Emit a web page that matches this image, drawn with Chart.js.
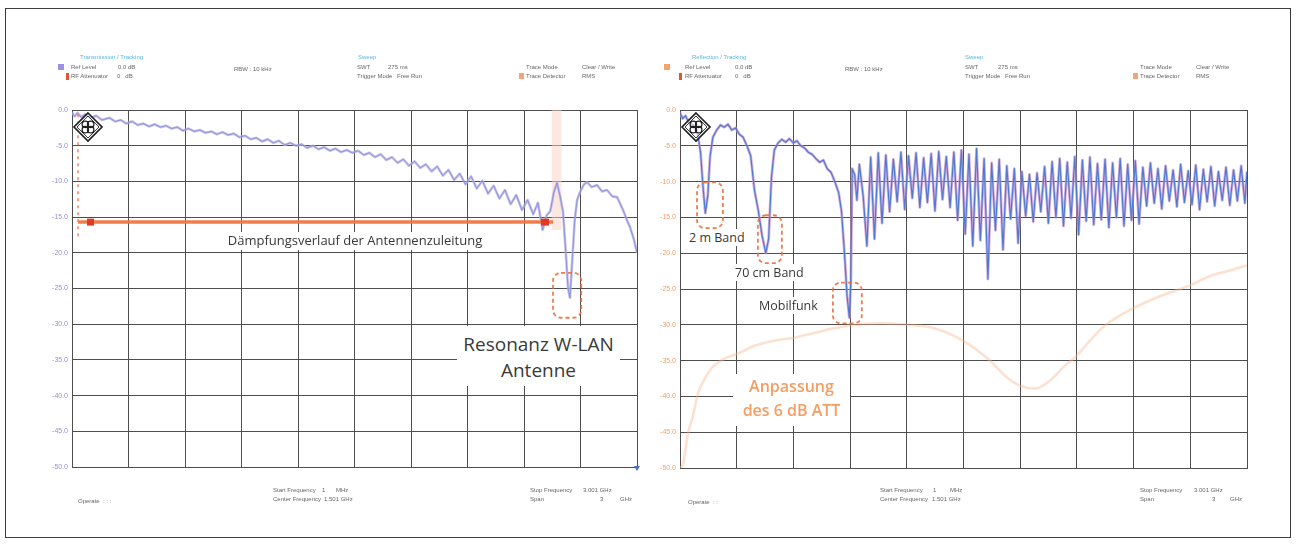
<!DOCTYPE html>
<html>
<head>
<meta charset="utf-8">
<script src="https://cdn.jsdelivr.net/npm/chart.js@4.4.1/dist/chart.umd.min.js"></script>
<style>
  html, body { margin: 0; padding: 0; background: #fff; }
  #stage { position: relative; width: 1296px; height: 545px; overflow: hidden; background: #fff; font-family: "Open Sans", sans-serif; }
  #frame { position: absolute; left: 5px; top: 8px; width: 1286px; height: 530px; border: 1px solid #3c3c3c; box-sizing: border-box; }
  canvas { position: absolute; top: 0; filter: blur(0.35px); }
  .t { position: absolute; white-space: nowrap; }
  .hdr { font-family: "Liberation Sans", sans-serif; font-size: 6px; line-height: 7px; color: #666; filter: blur(0.45px); }
  .cy { font-family: "Liberation Sans", sans-serif; font-size: 6px; line-height: 7px; color: #5ab6df; filter: blur(0.5px); }
  .sq { position: absolute; filter: blur(0.5px); }
  .note { color: #383838; background: #fff; line-height: 1.36; }
  .big { text-align: center; background: #fff; color: #3a3a3a; font-size: 19px; line-height: 26px; }
  .orange { text-align: center; background: #fff; color: rgba(243,140,72,0.85); font-size: 16px; font-weight: 600; line-height: 24px; }
  .orange span { filter: blur(0.7px); display: block; }
</style>
</head>
<body>
<div id="stage">
  <div id="frame"></div>
  <canvas id="chartLeft" width="660" height="545" style="left:0px"></canvas>
  <canvas id="chartRight" width="676" height="545" style="left:620px"></canvas>

  <!-- left instrument header -->
  <div class="t cy" style="left:80px;top:54px">Transmission / Tracking</div>
  <div class="t cy" style="left:358px;top:54px">Sweep</div>
  <div class="sq" style="left:58px;top:64px;width:6px;height:6px;background:#9d92e0"></div>
  <div class="sq" style="left:66px;top:73px;width:3px;height:7px;background:#e2552e"></div>
  <div class="t hdr" style="left:71px;top:64px">Ref Level</div>
  <div class="t hdr" style="left:118px;top:64px">0.0 dB</div>
  <div class="t hdr" style="left:71px;top:73px">RF Attenuator</div>
  <div class="t hdr" style="left:117px;top:73px">0&nbsp;&nbsp;&nbsp;dB</div>
  <div class="t hdr" style="left:234px;top:66px">RBW : 10 kHz</div>
  <div class="t hdr" style="left:357px;top:64px">SWT</div>
  <div class="t hdr" style="left:388px;top:64px">275 ms</div>
  <div class="t hdr" style="left:357px;top:73px">Trigger Mode</div>
  <div class="t hdr" style="left:397px;top:73px">Free Run</div>
  <div class="sq" style="left:519px;top:73px;width:5px;height:6px;background:#f6a27a"></div>
  <div class="t hdr" style="left:526px;top:64px">Trace Mode</div>
  <div class="t hdr" style="left:582px;top:64px">Clear / Write</div>
  <div class="t hdr" style="left:526px;top:73px">Trace Detector</div>
  <div class="t hdr" style="left:582px;top:73px">RMS</div>

  <!-- right instrument header -->
  <div class="t cy" style="left:692px;top:54px">Reflection / Tracking</div>
  <div class="t cy" style="left:965px;top:54px">Sweep</div>
  <div class="sq" style="left:664px;top:64px;width:6px;height:6px;background:#f7a36c"></div>
  <div class="sq" style="left:679px;top:73px;width:3px;height:7px;background:#e2552e"></div>
  <div class="t hdr" style="left:685px;top:64px">Ref Level</div>
  <div class="t hdr" style="left:735px;top:64px">0.0 dB</div>
  <div class="t hdr" style="left:685px;top:73px">RF Attenuator</div>
  <div class="t hdr" style="left:735px;top:73px">0&nbsp;&nbsp;&nbsp;dB</div>
  <div class="t hdr" style="left:845px;top:66px">RBW : 10 kHz</div>
  <div class="t hdr" style="left:965px;top:64px">SWT</div>
  <div class="t hdr" style="left:998px;top:64px">275 ms</div>
  <div class="t hdr" style="left:965px;top:73px">Trigger Mode</div>
  <div class="t hdr" style="left:1005px;top:73px">Free Run</div>
  <div class="sq" style="left:1133px;top:73px;width:5px;height:6px;background:#f6a27a"></div>
  <div class="t hdr" style="left:1140px;top:64px">Trace Mode</div>
  <div class="t hdr" style="left:1196px;top:64px">Clear / Write</div>
  <div class="t hdr" style="left:1140px;top:73px">Trace Detector</div>
  <div class="t hdr" style="left:1196px;top:73px">RMS</div>

  <!-- left instrument footer -->
  <div class="t hdr" style="left:78px;top:498px">Operate&nbsp;&nbsp;: : :</div>
  <div class="t hdr" style="left:273px;top:487px">Start Frequency</div>
  <div class="t hdr" style="left:322px;top:487px">1</div>
  <div class="t hdr" style="left:336px;top:487px">MHz</div>
  <div class="t hdr" style="left:273px;top:496px">Center Frequency</div>
  <div class="t hdr" style="left:324px;top:496px">1.501 GHz</div>
  <div class="t hdr" style="left:530px;top:487px">Stop Frequency</div>
  <div class="t hdr" style="left:583px;top:487px">3.001 GHz</div>
  <div class="t hdr" style="left:530px;top:496px">Span</div>
  <div class="t hdr" style="left:600px;top:496px">3</div>
  <div class="t hdr" style="left:620px;top:496px">GHz</div>

  <!-- right instrument footer -->
  <div class="t hdr" style="left:688px;top:499px">Operate&nbsp;&nbsp;: :</div>
  <div class="t hdr" style="left:880px;top:487px">Start Frequency</div>
  <div class="t hdr" style="left:933px;top:487px">1</div>
  <div class="t hdr" style="left:950px;top:487px">MHz</div>
  <div class="t hdr" style="left:880px;top:496px">Center Frequency</div>
  <div class="t hdr" style="left:932px;top:496px">1.501 GHz</div>
  <div class="t hdr" style="left:1140px;top:487px">Stop Frequency</div>
  <div class="t hdr" style="left:1194px;top:487px">3.001 GHz</div>
  <div class="t hdr" style="left:1140px;top:496px">Span</div>
  <div class="t hdr" style="left:1212px;top:496px">3</div>
  <div class="t hdr" style="left:1230px;top:496px">GHz</div>

  <!-- annotations -->
  <div class="t note" style="left:355px;top:232px;font-size:13px;padding:0 3px;transform:translateX(-50%)">Dämpfungsverlauf der Antennenzuleitung</div>
  <div class="t big" style="left:457px;top:326px;width:163px;height:60px;padding-top:5px;box-sizing:border-box">Resonanz W-LAN<br>Antenne</div>
  <div class="t note" style="left:688px;top:229px;font-size:12.5px;padding:0 1px">2 m Band</div>
  <div class="t note" style="left:734px;top:264px;font-size:12.5px;padding:0 1px">70 cm Band</div>
  <div class="t note" style="left:758px;top:297px;font-size:12.5px;padding:0 1px">Mobilfunk</div>
  <div class="t orange" style="left:733px;top:374px;width:117px;height:52px"><span>Anpassung</span><span>des 6 dB ATT</span></div>
</div>

<script>
// Sweep axis: 1 MHz .. 3.001 GHz, ten divisions
const gridMHz = [1, 301, 601, 901, 1201, 1501, 1801, 2101, 2401, 2701, 3001];
// Level axis: 0 dB reference, 5 dB per division
const levelTicksDb = [0, -5, -10, -15, -20, -25, -30, -35, -40, -45, -50];

// Transmission: feed line attenuation with W-LAN antenna resonance
const freqMHzCable = [1, 15, 30, 50, 70, 100, 130, 160, 200, 230, 260, 290, 320, 350, 380, 410, 440, 470, 500, 530,
  560, 590, 620, 650, 680, 710, 740, 770, 800, 830, 860, 890, 920, 950, 980, 1010, 1040, 1070, 1100, 1130,
  1160, 1190, 1220, 1250, 1280, 1310, 1340, 1370, 1400, 1430, 1460, 1490, 1520, 1550, 1580, 1610, 1640, 1670, 1700, 1730,
  1760, 1790, 1820, 1850, 1880, 1910, 1940, 1970, 2000, 2030, 2060, 2090, 2120, 2150, 2180, 2210, 2240, 2270, 2300, 2330,
  2360, 2390, 2420, 2450, 2475, 2500, 2520, 2540, 2560, 2576, 2592, 2608, 2622, 2635, 2645, 2655, 2670, 2683, 2700, 2720,
  2736, 2760, 2789, 2815, 2842, 2870, 2895, 2927, 2950, 2964, 2985, 3001];
const levelDbCable = [-0.3, -0.9, -0.4, -1.0, -0.6, -1.1, -0.8, -1.4, -1.1, -1.6, -1.4, -1.9, -1.6, -2.1, -1.9, -2.3, -2.0, -2.4, -2.2, -2.6,
  -2.4, -2.9, -2.6, -3.0, -2.8, -3.2, -3.0, -3.4, -3.1, -3.5, -3.3, -3.8, -3.6, -4.1, -3.9, -4.4, -4.1, -4.6, -4.3, -4.9,
  -4.6, -5.0, -4.8, -5.3, -5.0, -5.5, -5.2, -5.7, -5.4, -5.9, -5.6, -6.0, -5.7, -6.3, -6.0, -6.6, -6.2, -7.0, -6.6, -7.4,
  -6.9, -7.8, -7.2, -8.1, -7.6, -8.6, -7.9, -9.2, -8.4, -9.8, -8.9, -10.4, -9.3, -11.0, -9.9, -11.7, -10.6, -12.4, -11.2, -13.2,
  -11.9, -14.0, -12.6, -14.6, -13.0, -16.8, -14.8, -14.2, -11.5, -10.2, -12.0, -14.2, -19.6, -25.0, -26.3, -22.0, -15.5, -12.6, -11.4, -10.4,
  -10.1, -10.8, -10.5, -11.4, -11.2, -12.1, -12.2, -14.0, -15.6, -16.4, -18.2, -20.0];

// Reflection: antenna return loss (2 m, 70 cm, mobile bands, then ripple)
const freqMHzAntenna = [1, 15, 30, 45, 60, 80, 95, 110, 122, 135, 148, 160, 175, 195, 215, 235, 255, 275, 295, 315,
  335, 355, 375, 395, 415, 435, 455, 470, 485, 500, 520, 540, 560, 580, 600, 620, 640, 660, 680, 700,
  720, 740, 760, 780, 800, 820, 840, 855, 870, 885, 897, 905, 912, 925, 937, 950, 970, 990,
  1010, 1030, 1050, 1070, 1090, 1110, 1130, 1150, 1170, 1190, 1210, 1230, 1250, 1270, 1290, 1310, 1330, 1350, 1370, 1390,
  1410, 1430, 1450, 1470, 1490, 1510, 1530, 1550, 1570, 1590, 1610, 1630, 1650, 1670, 1690, 1710, 1730, 1750, 1770, 1790,
  1810, 1830, 1850, 1870, 1890, 1910, 1930, 1950, 1970, 1990, 2010, 2030, 2050, 2070, 2090, 2110, 2130, 2150, 2170, 2190,
  2210, 2230, 2250, 2270, 2290, 2310, 2330, 2350, 2370, 2390, 2410, 2430, 2450, 2470, 2490, 2510, 2530, 2550, 2570, 2590,
  2610, 2630, 2650, 2670, 2690, 2710, 2730, 2750, 2770, 2790, 2810, 2830, 2850, 2870, 2890, 2910, 2930, 2950, 2970, 2990, 3001];
const levelDbAntenna = [-0.4, -1.2, -0.8, -1.6, -1.9, -2.4, -3.4, -6.0, -10.5, -14.4, -12.0, -6.5, -3.8, -2.8, -2.1, -2.4, -2.0, -2.8, -2.5, -3.4,
  -3.8, -5.0, -6.4, -11.2, -14.0, -17.5, -20.0, -18.0, -9.4, -5.6, -4.6, -4.1, -4.5, -4.0, -4.6, -4.3, -5.0, -5.3, -5.9, -6.2,
  -6.8, -7.3, -7.0, -8.2, -8.7, -10.0, -11.5, -14.0, -19.5, -26.0, -29.0, -24.0, -8.2, -9.0, -12.6, -7.6, -12.0, -19.0,
  -6.6, -18.0, -6.0, -15.8, -6.3, -14.2, -6.9, -12.8, -5.9, -13.9, -6.4, -12.3, -6.0, -13.6, -6.7, -12.9, -6.1, -14.1, -5.8, -12.5,
  -6.5, -13.6, -5.9, -15.4, -5.6, -17.3, -6.2, -19.0, -5.4, -18.2, -6.8, -23.6, -7.4, -16.8, -6.9, -19.5, -7.8, -15.2, -8.2, -18.6,
  -8.6, -14.8, -9.0, -15.6, -8.8, -14.2, -7.9, -15.8, -7.2, -15.0, -6.8, -16.2, -7.3, -15.1, -6.5, -17.4, -7.0, -15.5, -6.6, -16.0,
  -7.5, -15.3, -6.9, -16.4, -7.4, -15.0, -6.8, -16.2, -7.6, -15.4, -7.1, -15.9, -8.0, -13.4, -7.4, -13.0, -8.2, -13.8, -7.8, -12.7,
  -8.4, -13.5, -7.6, -12.9, -8.5, -13.2, -7.7, -13.9, -8.3, -12.8, -7.9, -13.4, -8.6, -12.6, -8.0, -13.3, -8.4, -12.7, -7.8, -13.0, -8.6];

// Reflection of the 6 dB attenuator
const freqMHzAtt = [1, 17, 43, 70, 96, 133, 170, 239, 308, 398, 504, 604, 715, 810, 900, 1059, 1202, 1350, 1498, 1641,
  1720, 1800, 1879, 1958, 2038, 2101, 2170, 2249, 2328, 2397, 2487, 2593, 2699, 2805, 2911, 3001];
const levelDbAtt = [-50.0, -49.4, -45.2, -42.7, -39.6, -37.5, -36.0, -34.7, -34.0, -32.9, -32.2, -31.8, -31.1, -30.5, -30.1, -29.8, -30.0, -30.5, -32.2, -35.0,
  -37.1, -38.5, -38.9, -37.8, -35.7, -34.3, -32.2, -30.1, -28.7, -27.7, -26.6, -25.5, -24.5, -23.2, -22.4, -21.7];

// Marked regions: [fromMHz, toMHz, topDb, bottomDb]
const wlanDipBox = [2555, 2705, -22.8, -29.1];
const bandBoxes = [
  [91, 228, -10.1, -16.5],
  [413, 540, -14.7, -21.4],
  [810, 963, -24.1, -29.8]
];
// Feed-line span marker: frequencies and level
const cableSpanMHz = [33, 2555];
const cableSpanDb = -15.7;
const cableSpanTickDb = [-0.6, -18.2];
const markerBandMHz = [2548, 2600];
const markerBandDb = [0, -16.8];

function pts(xs, ys) { return xs.map((f, i) => ({ x: f, y: ys[i] })); }

function drawLogo(ctx, area) {
  const cx = area.left + 16, cy = area.top + 17, r = 14;
  ctx.save();
  const diamond = (s) => {
    ctx.beginPath();
    ctx.moveTo(cx, cy - s); ctx.lineTo(cx + s, cy); ctx.lineTo(cx, cy + s); ctx.lineTo(cx - s, cy); ctx.closePath();
  };
  diamond(r);
  ctx.fillStyle = 'rgba(255,255,255,0.55)';
  ctx.fill();
  ctx.strokeStyle = '#1e1e1e'; ctx.lineWidth = 1.6; ctx.stroke();
  diamond(r - 3);
  ctx.lineWidth = 0.9; ctx.stroke();
  ctx.lineWidth = 1.3;
  [[-3.6, -3.6], [3.6, -3.6], [-3.6, 3.6], [3.6, 3.6]].forEach(([dx, dy]) => {
    ctx.beginPath(); ctx.arc(cx + dx * 0.75, cy + dy * 0.75, 3.2, 0, Math.PI * 2); ctx.stroke();
  });
  ctx.restore();
}

function dashedBox(ctx, x, y, b) {
  const x0 = x.getPixelForValue(b[0]), x1 = x.getPixelForValue(b[1]);
  const y0 = y.getPixelForValue(b[2]), y1 = y.getPixelForValue(b[3]);
  ctx.save();
  ctx.setLineDash([4, 3]);
  ctx.strokeStyle = 'rgba(236,112,62,0.9)';
  ctx.lineWidth = 1.8;
  ctx.beginPath();
  ctx.roundRect(x0, y0, x1 - x0, y1 - y0, 8);
  ctx.stroke();
  ctx.restore();
}

const overlay = {
  id: 'overlay',
  beforeDatasetsDraw(chart, args, opts) {
    const { ctx, scales: { x, y } } = chart;
    if (opts.band) {
      const x0 = x.getPixelForValue(markerBandMHz[0]), x1 = x.getPixelForValue(markerBandMHz[1]);
      const y0 = y.getPixelForValue(markerBandDb[0]), y1 = y.getPixelForValue(markerBandDb[1]);
      ctx.save();
      ctx.fillStyle = 'rgba(250,210,196,0.5)';
      ctx.fillRect(x0, y0, x1 - x0, y1 - y0);
      ctx.restore();
    }
  },
  afterDatasetsDraw(chart, args, opts) {
    const { ctx, chartArea, scales: { x, y } } = chart;
    (opts.boxes || []).forEach(b => dashedBox(ctx, x, y, b));
    if (opts.span) {
      const xa = x.getPixelForValue(cableSpanMHz[0]), xb = x.getPixelForValue(cableSpanMHz[1]);
      const ys = y.getPixelForValue(cableSpanDb);
      ctx.save();
      ctx.strokeStyle = 'rgba(236,104,56,0.85)';
      ctx.lineWidth = 1.4;
      ctx.setLineDash([3, 4]);
      ctx.beginPath();
      ctx.moveTo(xa, y.getPixelForValue(cableSpanTickDb[0]));
      ctx.lineTo(xa, y.getPixelForValue(cableSpanTickDb[1]));
      ctx.stroke();
      ctx.setLineDash([]);
      ctx.strokeStyle = 'rgba(240,118,66,0.95)';
      ctx.lineWidth = 3.5;
      ctx.beginPath(); ctx.moveTo(xa, ys); ctx.lineTo(xb, ys); ctx.stroke();
      ctx.fillStyle = '#e23a22';
      ctx.fillRect(xa + 9, ys - 3.5, 7, 7);
      ctx.fillRect(xb - 12, ys - 3.5, 8, 7);
      ctx.restore();
      // sweep end marker
      ctx.save();
      ctx.fillStyle = '#4a6fd0';
      const ex = chartArea.right, ey = chartArea.bottom;
      ctx.beginPath(); ctx.moveTo(ex - 3, ey - 1); ctx.lineTo(ex + 3, ey - 1); ctx.lineTo(ex, ey + 4); ctx.closePath(); ctx.fill();
      ctx.restore();
    }
    drawLogo(ctx, chartArea);
  }
};

const gridColor = '#4e4e4e';

function buildChart(id, cfg) {
  return new Chart(document.getElementById(id), {
    type: 'line',
    data: { datasets: cfg.datasets },
    options: {
      responsive: false,
      animation: false,
      devicePixelRatio: 1,
      layout: { padding: cfg.padding },
      plugins: { legend: { display: false }, tooltip: { enabled: false }, overlay: cfg.overlay },
      elements: { point: { radius: 0 }, line: { tension: 0, borderJoinStyle: 'round' } },
      scales: {
        x: {
          type: 'linear', min: 1, max: 3001,
          afterBuildTicks: s => { s.ticks = gridMHz.map(v => ({ value: v })); },
          afterFit: s => { s.height = 0; },
          grid: { color: gridColor, lineWidth: 1, drawTicks: false },
          border: { color: gridColor, width: 1 },
          ticks: { display: false }
        },
        y: {
          type: 'linear', min: -50, max: 0,
          afterBuildTicks: s => { s.ticks = levelTicksDb.map(v => ({ value: v })); },
          afterFit: s => { s.width = 30; },
          grid: { color: gridColor, lineWidth: 1, drawTicks: false },
          border: { color: gridColor, width: 1 },
          ticks: {
            color: cfg.tickColor, padding: 4, autoSkip: false,
            font: { family: 'Liberation Sans', size: 7 },
            callback: v => Number(v).toFixed(1)
          }
        }
      }
    },
    plugins: [overlay]
  });
}

// dataset 0 is painted last (on top)
buildChart('chartLeft', {
  padding: { left: 42, right: 23, top: 110, bottom: 78 },
  tickColor: '#978fd6',
  overlay: { band: true, span: true, boxes: [wlanDipBox] },
  datasets: [
    { data: pts(freqMHzCable, levelDbCable), borderColor: 'rgba(96,124,212,0.6)', borderWidth: 1 },
    { data: pts(freqMHzCable, levelDbCable), borderColor: 'rgba(186,174,228,0.8)', borderWidth: 2.6 }
  ]
});

buildChart('chartRight', {
  padding: { left: 30, right: 49, top: 110, bottom: 77 },
  tickColor: '#f2a068',
  overlay: { boxes: bandBoxes },
  datasets: [
    { data: pts(freqMHzAntenna, levelDbAntenna), borderColor: 'rgba(66,116,210,0.9)', borderWidth: 1.2 },
    { data: pts(freqMHzAntenna, levelDbAntenna), borderColor: 'rgba(196,150,206,0.75)', borderWidth: 2.8 },
    { data: pts(freqMHzAtt, levelDbAtt), borderColor: 'rgba(248,184,142,0.42)', borderWidth: 2.6, cubicInterpolationMode: 'monotone' }
  ]
});
</script>
</body>
</html>
